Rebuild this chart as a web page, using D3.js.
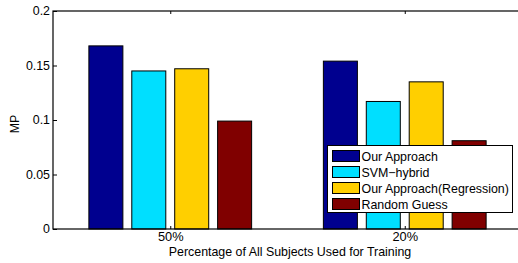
<!DOCTYPE html>
<html>
<head>
<meta charset="utf-8">
<script src="https://cdn.jsdelivr.net/npm/d3@7"></script>
<style>
  body { margin: 0; background: white; }
  text { font-family: "Liberation Sans", Arial, sans-serif; }
</style>
</head>
<body>
<div id="chart"></div>
<script>
// values
var groups = ["50%", "20%"]
var methods = ["Our Approach", "SVM\u2212hybrid", "Our Approach(Regression)", "Random Guess"]
var ourApproach = [0.168, 0.154]
var svmHybrid = [0.145, 0.117]
var ourRegression = [0.147, 0.135]
var randomGuess = [0.099, 0.081]
var yTicks = [0, 0.05, 0.1, 0.15, 0.2]
var colors = ["#00008f", "#00dfff", "#ffcf00", "#800000"]

var series = [ourApproach, svmHybrid, ourRegression, randomGuess]

var W = 518, H = 263
var fs = "12.4px"
var svg = d3.select("#chart").append("svg")
    .attr("width", W)
    .attr("height", H)
    .style("background-color", "white")

var x = d3.scaleLinear().domain([0.5, 2.5]).range([53, 522])
var y = d3.scaleLinear().domain([0, 0.2]).range([229, 11])

var step = 0.183, bw = 0.145

// bars
series.forEach(function(vals, s) {
    svg.append("g").selectAll("rect")
        .data(vals)
        .enter()
        .append("rect")
        .attr("x", (d, i) => x(i + 1 + (s - 1.5) * step - bw / 2))
        .attr("width", x(bw) - x(0))
        .attr("y", d => y(d))
        .attr("height", d => y(0) - y(d))
        .attr("fill", colors[s])
        .attr("stroke", "#000")
        .attr("stroke-width", 1)
})

// box
svg.append("rect")
    .attr("x", x(0.5)).attr("y", y(0.2))
    .attr("width", x(2.5) - x(0.5)).attr("height", y(0) - y(0.2))
    .attr("fill", "none").attr("stroke", "#000").attr("stroke-width", 1.2)

// y axis left (ticks inward)
var yAxis = d3.axisRight(y).tickValues(yTicks).tickSize(4).tickFormat(d => d === 0 ? "0" : String(d))
var gy = svg.append("g").attr("transform", "translate(" + x(0.5) + ",0)").call(yAxis)
gy.select(".domain").remove()
gy.selectAll("text").attr("x", -3).attr("text-anchor", "end")
    .style("font-size", fs).style("font-family", "Liberation Sans, Arial, sans-serif").attr("fill", "#000")

var gy2 = svg.append("g").attr("transform", "translate(" + x(2.5) + ",0)")
    .call(d3.axisLeft(y).tickValues(yTicks).tickSize(4).tickFormat(""))
gy2.select(".domain").remove()

// x axis (ticks inward)
var xAxis = d3.axisTop(x).tickValues([1, 2]).tickSize(3).tickFormat((d, i) => groups[i])
var gx = svg.append("g").attr("transform", "translate(0," + y(0) + ")").call(xAxis)
gx.select(".domain").remove()
gx.selectAll("text").attr("y", 12).attr("dy", "0")
    .style("font-size", "12.8px").style("font-family", "Liberation Sans, Arial, sans-serif").attr("fill", "#000")

var gx2 = svg.append("g").attr("transform", "translate(0," + y(0.2) + ")")
    .call(d3.axisBottom(x).tickValues([1, 2]).tickSize(3).tickFormat(""))
gx2.select(".domain").remove()

// axis titles
svg.append("text")
    .attr("x", 290).attr("y", 256)
    .attr("text-anchor", "middle")
    .style("font-size", fs)
    .text("Percentage of All Subjects Used for Training")

svg.append("text")
    .attr("transform", "translate(19," + (y(0.1) + 4) + ") rotate(-90)")
    .attr("text-anchor", "middle")
    .style("font-size", fs)
    .text("MP")

// legend
var legend = svg.append("g")
legend.append("rect")
    .attr("x", 327.5).attr("y", 145.5).attr("width", 185).attr("height", 67)
    .attr("fill", "white").attr("stroke", "#000").attr("stroke-width", 1)

methods.forEach(function(m, i) {
    legend.append("rect")
        .attr("x", 332.5).attr("y", 150.5 + i * 16).attr("width", 27).attr("height", 11)
        .attr("fill", colors[i]).attr("stroke", "#000").attr("stroke-width", 1)
    legend.append("text")
        .attr("x", 361.5).attr("y", 160.5 + i * 16)
        .style("font-size", fs)
        .text(m)
})
</script>
</body>
</html>
